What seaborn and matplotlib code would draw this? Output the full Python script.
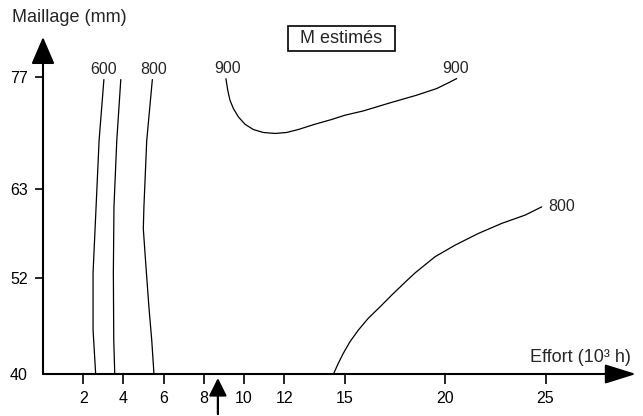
import matplotlib
matplotlib.use("Agg")
import matplotlib.pyplot as plt
import matplotlib.patches as mpatches
import seaborn as sns
import pandas as pd

# ---- data ----
x_ticks = [2, 4, 6, 8, 10, 12, 15, 20, 25]
y_ticks = [40, 52, 63, 77]

effort_600 = [3.03, 2.79, 2.64, 2.49, 2.49, 2.62]
maille_600 = [76.7, 69.1, 60.8, 52.6, 45.5, 40.0]

effort_700 = [3.87, 3.67, 3.53, 3.50, 3.52, 3.57]
maille_700 = [76.7, 69.1, 60.8, 52.6, 44.2, 40.0]

effort_800a = [5.44, 5.16, 5.02, 4.99, 5.11, 5.27, 5.41, 5.52]
maille_800a = [76.7, 69.1, 60.8, 58.1, 53.8, 48.3, 44.2, 40.0]

effort_900 = [9.10, 9.19, 9.30, 9.47, 9.72, 10.05, 10.46, 10.96, 11.54, 12.12,
              12.70, 13.53, 14.36, 15.02, 15.94, 17.26, 18.59, 19.59, 20.16, 20.58]
maille_900 = [76.8, 75.37, 74.13, 73.09, 72.04, 71.13, 70.47, 70.10, 69.98, 70.10,
              70.47, 71.13, 71.72, 72.25, 72.79, 73.79, 74.75, 75.58, 76.28, 76.82]

effort_800b = [24.81, 23.98, 22.82, 21.66, 20.50, 19.50, 18.51, 18.09, 17.35,
               16.77, 16.18, 15.69, 15.27, 14.94, 14.69, 14.45]
maille_800b = [60.83, 59.80, 58.77, 57.52, 56.06, 54.61, 52.60, 51.62, 49.84,
               48.38, 46.94, 45.48, 44.02, 42.58, 41.33, 40.0]

contour_levels = ["600", "", "800", "900", "800"]

marker_effort = 8.7

sns.set_theme(style="ticks")
plt.rcParams["font.family"] = ["Liberation Sans", "DejaVu Sans"]

frames = []
for name, xs, ys in [("600", effort_600, maille_600),
                     ("700", effort_700, maille_700),
                     ("800a", effort_800a, maille_800a),
                     ("900", effort_900, maille_900),
                     ("800b", effort_800b, maille_800b)]:
    frames.append(pd.DataFrame({"effort": xs, "maille": ys, "contour": name}))
df = pd.concat(frames, ignore_index=True)

fig = plt.figure(figsize=(6.43, 4.16), dpi=100)
ax = fig.add_axes([43 / 643, 42 / 416, 593 / 643, 337 / 416])

sns.lineplot(data=df, x="effort", y="maille", units="contour", estimator=None,
             sort=False, color="black", lw=0.9, ax=ax, legend=False)

ax.set_xlim(0, 29.5)
ax.set_ylim(40, 82)
for s in ax.spines.values():
    s.set_visible(False)

NUM = 11.5
WORD = 13

ax.set_xticks(x_ticks)
ax.set_xticklabels([str(v) for v in x_ticks])
ax.set_yticks(y_ticks)
ax.set_yticklabels([str(v) for v in y_ticks])
ax.tick_params(axis="x", bottom=True, direction="out", length=7, width=1.2,
               pad=5, labelsize=NUM, colors="black")
ax.tick_params(axis="y", left=True, direction="out", length=6, width=1.2,
               pad=5, labelsize=NUM, colors="black")
ax.yaxis.get_major_ticks()[0].tick1line.set_visible(False)
ax.set_xlabel("")
ax.set_ylabel("")

# axis arrows
ax.annotate("", xy=(29.5, 40), xytext=(0, 40), annotation_clip=False,
            arrowprops=dict(arrowstyle="-|>,head_length=1.6,head_width=0.5",
                            lw=1.5, color="black", shrinkA=0, shrinkB=0))
ax.annotate("", xy=(0, 82), xytext=(0, 40), annotation_clip=False,
            arrowprops=dict(arrowstyle="-|>,head_length=1.4,head_width=0.6",
                            lw=1.5, color="black", shrinkA=0, shrinkB=0))
ax.annotate("", xy=(marker_effort, 39.5), xytext=(marker_effort, 35.0),
            annotation_clip=False,
            arrowprops=dict(arrowstyle="-|>,head_length=0.9,head_width=0.45",
                            lw=1.6, color="black", shrinkA=0, shrinkB=0))

# contour labels
def top_label(xs, ys, text, dx=0):
    ax.annotate(text, xy=(xs[0], ys[0]), xytext=(dx, 2), textcoords="offset points",
                ha="center", va="bottom", fontsize=NUM, annotation_clip=False)

top_label(effort_600, maille_600, contour_levels[0])
top_label(effort_800a, maille_800a, contour_levels[2], dx=1)
top_label(effort_900, maille_900, contour_levels[3], dx=1)
ax.annotate(contour_levels[3], xy=(effort_900[-1], maille_900[-1]), xytext=(-1, 1.5),
            textcoords="offset points", ha="center", va="bottom", fontsize=NUM)
ax.annotate(contour_levels[4], xy=(effort_800b[0], maille_800b[0]), xytext=(5, 0),
            textcoords="offset points", ha="left", va="center", fontsize=NUM)

# axis titles
fig.text(12 / 643, 1 - 17 / 416, "Maillage (mm)", ha="left", va="center", fontsize=WORD)
fig.text(631 / 643, 1 - 357 / 416, "Effort (10³ h)", ha="right", va="center", fontsize=WORD)

# boxed title
fig.patches.append(mpatches.Rectangle((288 / 643, 1 - 51 / 416), 107 / 643, 25 / 416,
                                      transform=fig.transFigure, fill=False,
                                      edgecolor="black", lw=1.2))
fig.text(341 / 643, 1 - 38.5 / 416, "M estimés", ha="center", va="center", fontsize=WORD)

fig.savefig("out.png", dpi=100)
